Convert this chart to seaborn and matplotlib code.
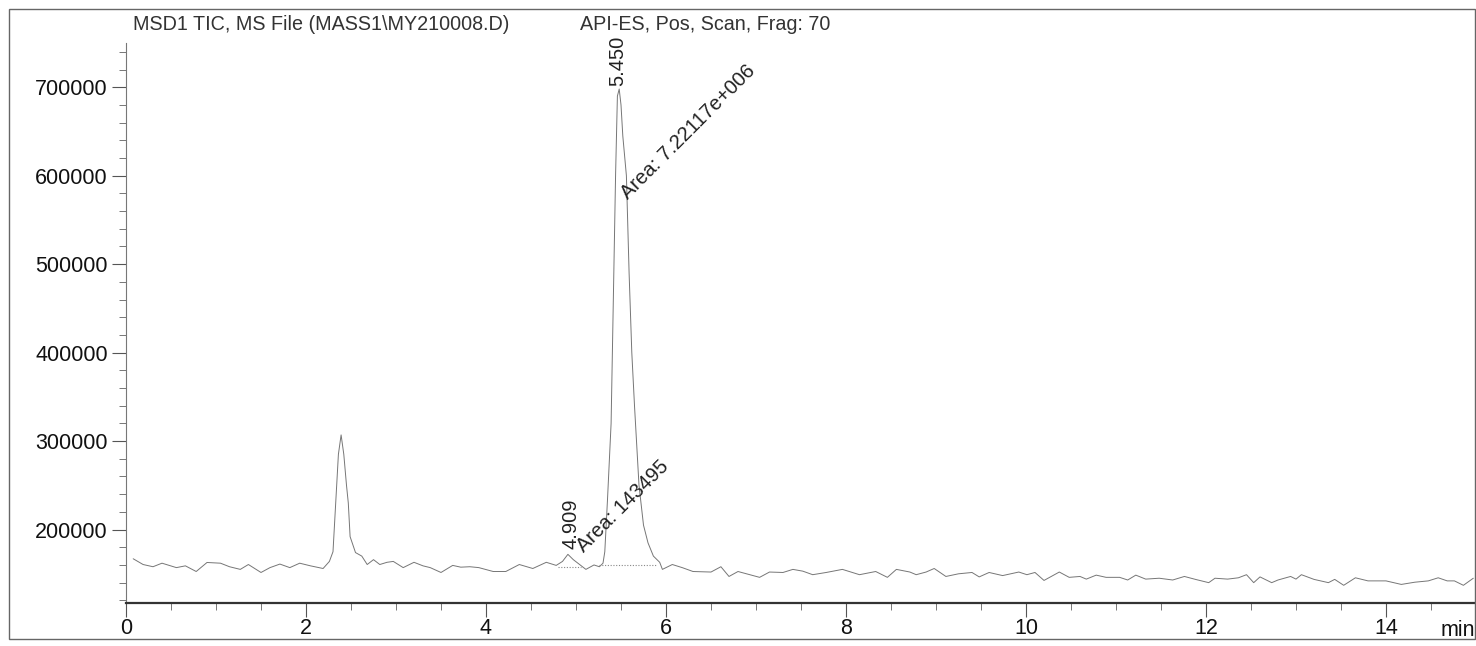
import matplotlib
matplotlib.use("Agg")
import matplotlib.pyplot as plt
import seaborn as sns
import pandas as pd
from matplotlib.patches import Rectangle

# retention time (min) and TIC intensity
time_min = [
    0.08, 0.19, 0.30, 0.40, 0.56, 0.66, 0.78, 0.90, 1.05, 1.15, 1.27, 1.36, 1.50, 1.60,
    1.71, 1.82, 1.93, 2.05, 2.19, 2.26, 2.30, 2.33, 2.36, 2.39, 2.42, 2.45, 2.47, 2.49,
    2.55, 2.62, 2.68, 2.75, 2.82, 2.90, 2.97, 3.08, 3.20, 3.30, 3.38, 3.50, 3.63, 3.72,
    3.82, 3.92, 4.08, 4.22, 4.37, 4.52, 4.67, 4.78, 4.85, 4.91, 4.97, 5.04, 5.11, 5.20,
    5.26, 5.30, 5.32, 5.35, 5.39, 5.42, 5.44, 5.46, 5.48, 5.50, 5.52, 5.56, 5.59, 5.62,
    5.65, 5.70, 5.75, 5.80, 5.86, 5.93, 5.96, 6.07, 6.18, 6.30, 6.50, 6.61, 6.70, 6.80,
    6.93, 7.04, 7.15, 7.30, 7.41, 7.52, 7.63, 7.78, 7.96, 8.07, 8.15, 8.33, 8.46, 8.56,
    8.71, 8.78, 8.89, 8.98, 9.11, 9.25, 9.40, 9.48, 9.59, 9.74, 9.92, 10.01, 10.10, 10.20,
    10.37, 10.48, 10.60, 10.67, 10.78, 10.89, 11.04, 11.13, 11.22, 11.33, 11.48, 11.63,
    11.76, 11.89, 12.03, 12.10, 12.24, 12.36, 12.45, 12.53, 12.60, 12.73, 12.80, 12.94,
    13.00, 13.06, 13.20, 13.36, 13.43, 13.53, 13.66, 13.80, 14.00, 14.17, 14.32, 14.47,
    14.58, 14.68, 14.76, 14.86, 14.97,
]
intensity = [
    167000, 160500, 158000, 162000, 157000, 159000, 152600, 162800, 162000, 158000, 155000, 160500, 151500, 157000,
    161000, 157000, 162000, 159000, 156000, 164000, 175000, 230000, 285000, 307000, 285000, 250000, 230000, 192000,
    174000, 170000, 160500, 166000, 160500, 163000, 164000, 157000, 163000, 159000, 157000, 151500, 159500, 157500,
    158000, 157000, 152600, 152600, 160500, 156000, 163000, 159500, 164000, 172000, 166000, 160500, 155000, 160000,
    158000, 162000, 175000, 234000, 320000, 490000, 602000, 690000, 698000, 680000, 645000, 600000, 490000, 400000,
    340000, 250000, 205000, 185000, 170000, 163000, 155000, 160500, 157000, 152600, 152000, 158000, 147000, 152600,
    149000, 146000, 152000, 151500, 155000, 153000, 149000, 151500, 155000, 151500, 149000, 152600, 146000, 155000,
    152000, 149000, 152000, 156000, 147000, 150000, 151500, 146500, 151500, 148000, 152000, 149000, 151500, 142500,
    152000, 146000, 147000, 144000, 148500, 146000, 146000, 143000, 148500, 144000, 145000, 143000,
    147000, 143500, 140000, 145000, 144000, 145500, 149000, 140000, 146500, 140000, 143000, 147000,
    144000, 149000, 143700, 140000, 143700, 137000, 145500, 142000, 142000, 138000, 140500, 142000,
    145500, 142000, 142000, 137000, 145000,
]

# integration baselines drawn under the two integrated peaks
base_small_t = [4.80, 5.06]
base_small_y = [157500, 157500]
base_main_t = [5.26, 5.90]
base_main_y = [160500, 160500]

# peak labels
peak_rt = [4.909, 5.450]
peak_area = ["Area: 143495", "Area: 7.22117e+006"]

y_ticks = [200000, 300000, 400000, 500000, 600000, 700000]
x_ticks = [0, 2, 4, 6, 8, 10, 12, 14]

df = pd.DataFrame({"time": time_min, "tic": intensity})

sns.set_style("ticks")
plt.rcParams["font.family"] = ["Liberation Sans", "DejaVu Sans"]

W, H = 1476, 646
fig = plt.figure(figsize=(W / 100, H / 100), dpi=100)
ax = fig.add_axes([126 / W, 1 - 603 / H, (W - 126) / W, (603 - 43) / H])

sns.lineplot(data=df, x="time", y="tic", ax=ax, color="#767676", lw=0.7)
ax.plot(base_small_t, base_small_y, color="#888888", lw=0.8, ls=(0, (1, 1.5)))
ax.plot(base_main_t, base_main_y, color="#888888", lw=0.8, ls=(0, (1, 1.5)))

ax.set_xlim(0, 15)
ax.set_ylim(117000, 750000)
ax.set_xticks(x_ticks)
ax.set_xticks([x / 2 for x in range(0, 31)], minor=True)
ax.set_yticks(y_ticks)
ax.set_yticks(list(range(120000, 750000, 20000)), minor=True)
ax.set_yticklabels([str(v) for v in y_ticks])
ax.set_xlabel("")
ax.set_ylabel("")
ax.tick_params(axis="both", which="major", length=10, width=0.8, color="#555555",
               labelsize=15.5, labelcolor="#111111")
ax.tick_params(axis="both", which="minor", length=5, width=0.7, color="#777777")
ax.tick_params(axis="x", pad=1)
ax.tick_params(axis="y", pad=3)

for s in ["top", "right"]:
    ax.spines[s].set_visible(False)
ax.spines["left"].set_color("#777777")
ax.spines["left"].set_linewidth(0.8)
ax.spines["bottom"].set_color("#333333")
ax.spines["bottom"].set_linewidth(1.6)

# retention time labels (vertical) and area labels (diagonal)
ax.text(peak_rt[0] + 0.03, 177500, f"{peak_rt[0]:.3f}", rotation=90, ha="center", va="bottom",
        fontsize=14.5, color="#222222")
ax.text(peak_rt[1] + 0.01, 701000, f"{peak_rt[1]:.3f}", rotation=90, ha="center", va="bottom",
        fontsize=14.5, color="#222222")
ax.text(5.09, 174000, peak_area[0], rotation=45, ha="left", va="baseline",
        rotation_mode="anchor", fontsize=14.5, color="#222222")
ax.text(5.58, 572000, peak_area[1], rotation=45, ha="left", va="baseline",
        rotation_mode="anchor", fontsize=14.5, color="#222222")

fig.text(133 / W, 1 - 25 / H, "MSD1 TIC, MS File (MASS1\\MY210008.D)", fontsize=14.2,
         color="#333333", va="center", ha="left")
fig.text(580 / W, 1 - 25 / H, "API-ES, Pos, Scan, Frag: 70", fontsize=14.2,
         color="#333333", va="center", ha="left")
fig.text(1441 / W, 1 - 630 / H, "min", fontsize=15.5, color="#111111", va="center", ha="left")

fig.add_artist(Rectangle((9 / W, 1 - 639 / H), (W - 10) / W, (639 - 9) / H,
                         transform=fig.transFigure, fill=False, lw=1.0,
                         edgecolor="#666666"))

fig.savefig("out.png", dpi=100)
plt.close(fig)
